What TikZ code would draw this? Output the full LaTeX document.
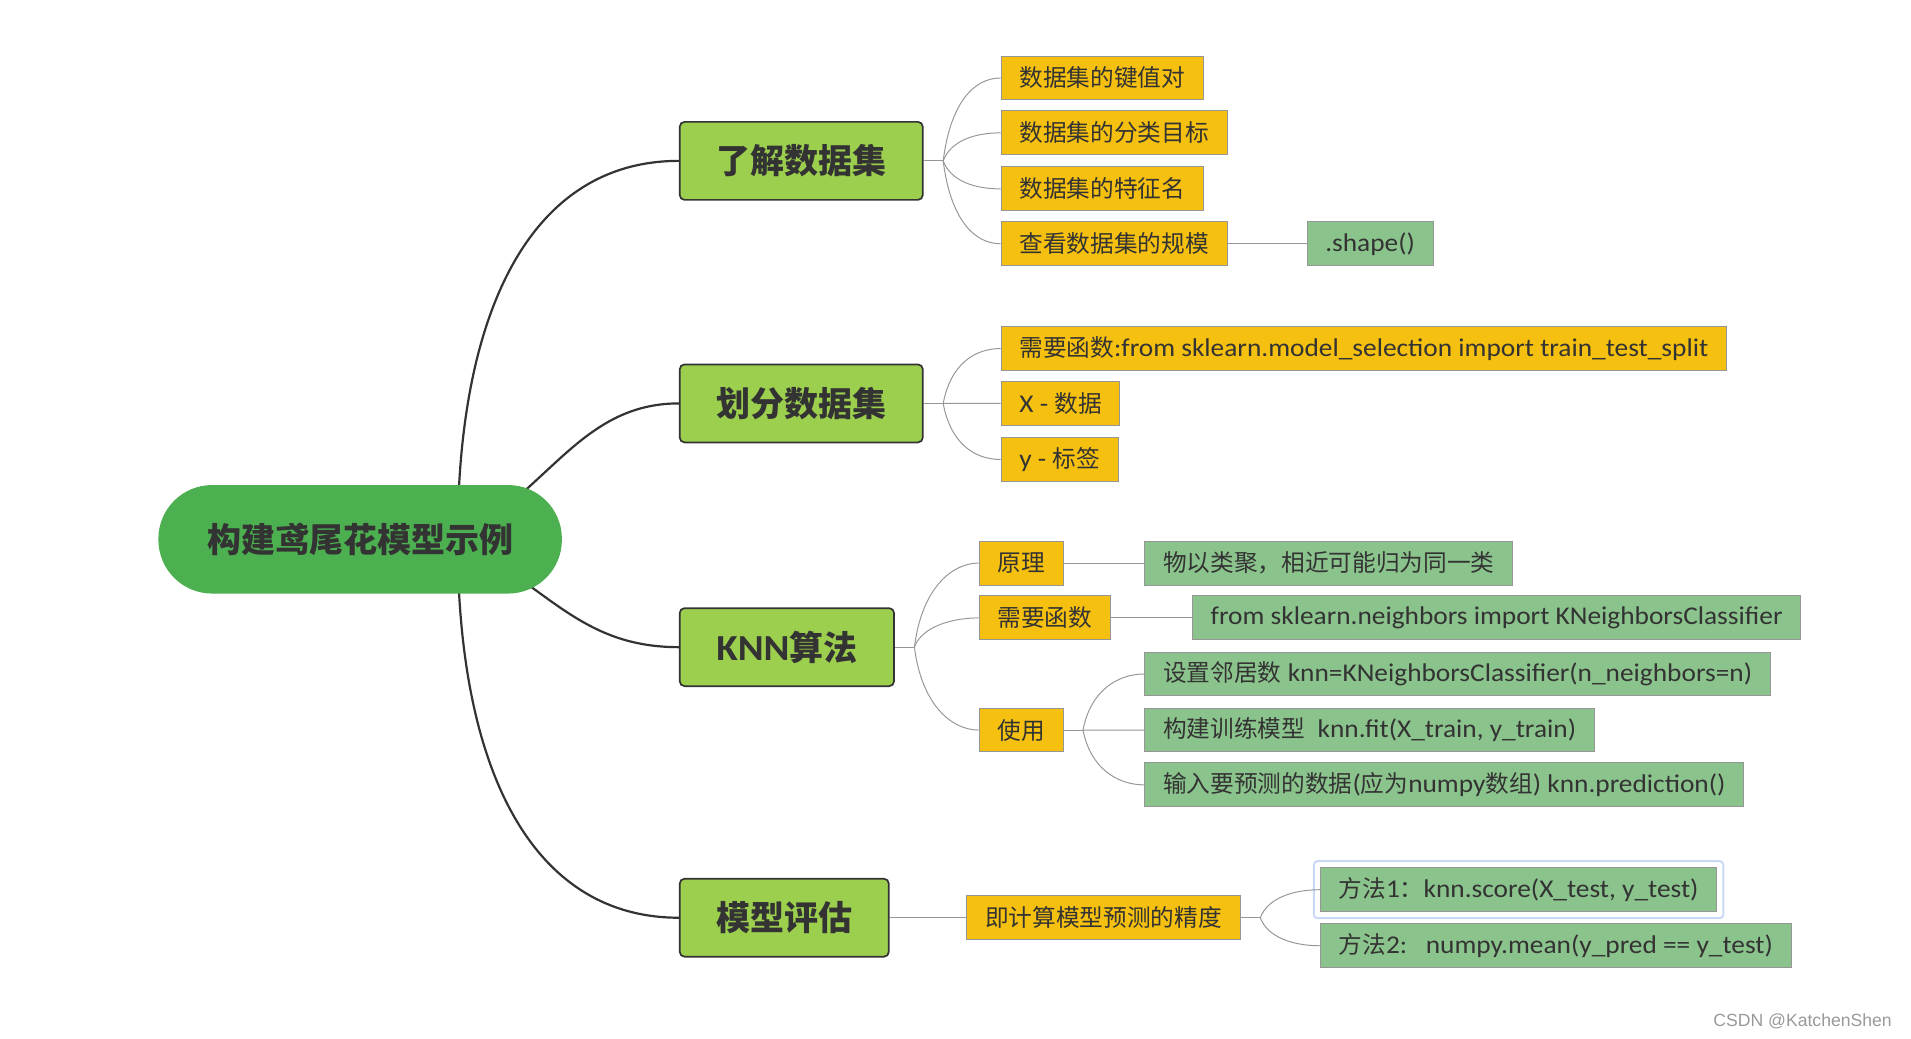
\documentclass[tikz,border=0pt]{standalone}
\usepackage{fontspec}
\setmainfont{Carlito}[Scale=1.08, FakeStretch=1.07]
\newfontfamily\cjk{Noto Sans CJK SC}
\newfontfamily\wmfont{Liberation Sans}
\newcommand{\zh}[1]{{\cjk #1}}
\usetikzlibrary{calc,fit,backgrounds}
\definecolor{rootgreen}{RGB}{76,175,80}
\definecolor{topicgreen}{RGB}{156,207,78}
\definecolor{subyellow}{RGB}{245,192,15}
\definecolor{leafgreen}{RGB}{139,195,140}
\definecolor{inkgray}{RGB}{51,51,51}
\definecolor{linegray}{RGB}{150,150,150}
\definecolor{selblue}{RGB}{200,216,246}
\tikzset{
  rootnode/.style={fill=rootgreen, rounded corners=44bp, minimum height=89bp,
                   inner xsep=40bp, font=\fontsize{28}{32}\selectfont\bfseries, text=inkgray},
  topic/.style={draw=inkgray, fill=topicgreen, rounded corners=4bp, line width=1.4bp,
                minimum height=64bp, inner xsep=30bp, anchor=west,
                font=\fontsize{28}{32}\selectfont\bfseries, text=inkgray},
  sub/.style={draw=linegray, fill=subyellow, line width=0.8bp, minimum height=36bp,
              inner xsep=15bp, anchor=west, font=\fontsize{19.5}{22}\selectfont, text=inkgray},
  leaf/.style={sub, fill=leafgreen},
  trunk/.style={draw=inkgray, line width=1.8bp},
  twig/.style={draw=linegray, line width=0.8bp},
  fork/.style={twig, to path={.. controls ($(\tikztostart)!0.7!(\tikztostart|-\tikztotarget)+(6,0)$)
                 and ($(\tikztotarget)+(-22,0)$) .. (\tikztotarget)}},
  selbox/.style={draw=selblue, line width=1.6bp, rounded corners=3bp, inner sep=5bp},
}
\begin{document}
\begin{tikzpicture}[x=1bp, y=-1bp]
  \useasboundingbox (0,0) rectangle (1568,852);
  % centre and main topics
  \node[rootnode] (root) at (295.5,442.5) {\zh{构建鸢尾花模型示例}};
  \node[topic] (know)  at (557,132) {\zh{了解数据集}};
  \node[topic] (split) at (557,331) {\zh{划分数据集}};
  \node[topic] (knn)   at (557,531) {KNN\zh{算法}};
  \node[topic] (eval)  at (557,753) {\zh{模型评估}};

  % 了解数据集
  \node[sub] (kv)     at (821,64)  {\zh{数据集的键值对}};
  \node[sub] (target) at (821,109) {\zh{数据集的分类目标}};
  \node[sub] (feat)   at (821,155) {\zh{数据集的特征名}};
  \node[sub] (size)   at (821,200) {\zh{查看数据集的规模}};
  \node[leaf] (shape) at (1072,200) {.shape()};
  % 划分数据集
  \node[sub] (func)   at (821,286) {\zh{需要函数}:from sklearn.model\_selection import train\_test\_split};
  \node[sub] (xdata)  at (821,331) {X - \zh{数据}};
  \node[sub] (ylabel) at (821,377) {y - \zh{标签}};
  % KNN算法
  \node[sub]  (prin)     at (803,462) {\zh{原理}};
  \node[leaf] (prindesc) at (939,462) {\zh{物以类聚，相近可能归为同一类}};
  \node[sub]  (need)     at (803,507) {\zh{需要函数}};
  \node[leaf] (needimp)  at (978,507) {from sklearn.neighbors import KNeighborsClassifier};
  \node[sub]  (use)      at (803,599) {\zh{使用}};
  \node[leaf] (useset)   at (939,553) {\zh{设置邻居数} knn=KNeighborsClassifier(n\_neighbors=n)};
  \node[leaf] (usefit)   at (939,599) {\zh{构建训练模型}\ \ knn.fit(X\_train, y\_train)};
  \node[leaf] (usepred)  at (939,644) {\zh{输入要预测的数据}(\zh{应为}numpy\zh{数组}) knn.prediction()};
  % 模型评估
  \node[sub]  (acc) at (793,753)  {\zh{即计算模型预测的精度}};
  \node[leaf] (m1)  at (1083,730) {\zh{方法}1\zh{：}knn.score(X\_test, y\_test)};
  \node[leaf] (m2)  at (1083,776) {\zh{方法}2:\ \ \ numpy.mean(y\_pred == y\_test)};
  \node[selbox, fit=(m1)] (m1sel) {};

  \node[font=\wmfont\fontsize{14.5}{16}\selectfont, text=black!40, anchor=east] (wm)
    at (1556,838) {CSDN @KatchenShen};

  % trunk curves behind the centre
  \begin{scope}[on background layer]
    \coordinate (hub) at ($(root.center)+(80,0)$);
    \draw[trunk] (hub) .. controls +(0,-190) and +(-120,0) .. (know.west);
    \draw[trunk] (hub) .. controls +(75,-40) and +(-80,0) .. (split.west);
    \draw[trunk] (hub) .. controls +(75,40) and +(-80,0) .. (knn.west);
    \draw[trunk] (hub) .. controls +(0,190) and +(-120,0) .. (eval.west);
  \end{scope}

  % forks
  \coordinate (knowfork)  at ($(know.east)+(16,0)$);
  \coordinate (splitfork) at ($(split.east)+(16,0)$);
  \coordinate (knnfork)   at ($(knn.east)+(16,0)$);
  \coordinate (usefork)   at ($(use.east)+(16,0)$);
  \coordinate (accfork)   at ($(acc.east)+(16,0)$);
  \draw[twig] (know.east) -- (knowfork);
  \draw[twig] (split.east) -- (splitfork);
  \draw[twig] (knn.east) -- (knnfork);
  \draw[twig] (use.east) -- (usefork);
  \draw[twig] (acc.east) -- (accfork);
  \foreach \c in {kv,target,feat,size} \draw[fork] (knowfork) to (\c.west);
  \foreach \c in {func,xdata,ylabel} \draw[fork] (splitfork) to (\c.west);
  \foreach \c in {prin,need,use} \draw[fork] (knnfork) to (\c.west);
  \foreach \c in {useset,usefit,usepred} \draw[fork] (usefork) to (\c.west);
  \foreach \c in {m1,m2} \draw[fork] (accfork) to (\c.west);

  % straight links
  \draw[twig] (size.east) -- (shape.west);
  \draw[twig] (prin.east) -- (prindesc.west);
  \draw[twig] (need.east) -- (needimp.west);
  \draw[twig] (eval.east) -- (acc.west);
\end{tikzpicture}
\end{document}
